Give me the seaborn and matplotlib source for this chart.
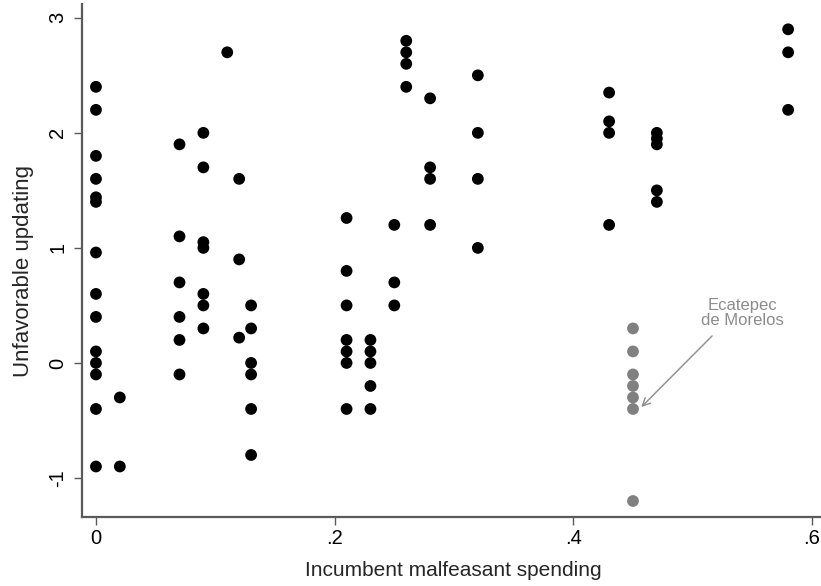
import matplotlib
matplotlib.use("Agg")
import matplotlib.pyplot as plt
import seaborn as sns
import pandas as pd

# Main municipalities: x (incumbent malfeasant spending), y (unfavorable updating)
x_main = (
    [0.0] * 14
    + [0.02] * 2
    + [0.07] * 6
    + [0.09] * 7
    + [0.11]
    + [0.12] * 3
    + [0.13] * 6
    + [0.21] * 7
    + [0.23] * 5
    + [0.25] * 3
    + [0.26] * 4
    + [0.28] * 4
    + [0.32] * 4
    + [0.43] * 4
    + [0.47] * 5
    + [0.58] * 3
)
y_main = (
    [2.4, 2.2, 1.8, 1.6, 1.44, 1.4, 0.96, 0.6, 0.4, 0.1, 0.0, -0.1, -0.4, -0.9]
    + [-0.3, -0.9]
    + [1.9, 1.1, 0.7, 0.4, 0.2, -0.1]
    + [2.0, 1.7, 1.05, 1.0, 0.6, 0.5, 0.3]
    + [2.7]
    + [1.6, 0.9, 0.22]
    + [0.5, 0.3, 0.0, -0.1, -0.4, -0.8]
    + [1.26, 0.8, 0.5, 0.2, 0.1, 0.0, -0.4]
    + [0.2, 0.1, 0.0, -0.2, -0.4]
    + [1.2, 0.7, 0.5]
    + [2.8, 2.7, 2.6, 2.4]
    + [2.3, 1.7, 1.6, 1.2]
    + [2.5, 2.0, 1.6, 1.0]
    + [2.35, 2.1, 2.0, 1.2]
    + [2.0, 1.95, 1.9, 1.5, 1.4]
    + [2.9, 2.7, 2.2]
)
# Ecatepec de Morelos
x_ecat = [0.45] * 7
y_ecat = [0.3, 0.1, -0.1, -0.2, -0.3, -0.4, -1.2]

x_ticks = [0, 0.2, 0.4, 0.6]
x_ticklabels = ["0", ".2", ".4", ".6"]
y_ticks = [-1, 0, 1, 2, 3]
y_ticklabels = ["-1", "0", "1", "2", "3"]

df = pd.DataFrame({
    "x": x_main + x_ecat,
    "y": y_main + y_ecat,
    "group": ["other"] * len(x_main) + ["Ecatepec"] * len(x_ecat),
})

sns.set_style("white")
plt.rcParams["font.family"] = ["Liberation Sans", "DejaVu Sans"]

fig = plt.figure(figsize=(8.21, 5.86), dpi=100)
ax = fig.add_axes([82 / 821, 1 - 517 / 586, (820 - 82) / 821, (517 - 4) / 586])

sns.scatterplot(
    data=df, x="x", y="y", hue="group",
    palette={"other": "black", "Ecatepec": "#808080"},
    s=72, linewidth=0, legend=False, ax=ax, zorder=3,
)

ax.set_xlim(-0.0117, 0.6067)
ax.set_ylim(-1.339, 3.12)
ax.set_xticks(x_ticks)
ax.set_xticklabels(x_ticklabels)
ax.set_yticks(y_ticks)
ax.set_yticklabels(y_ticklabels, rotation=90, va="center")

for side in ["top", "right"]:
    ax.spines[side].set_visible(False)
for side in ["left", "bottom"]:
    ax.spines[side].set_color("#5a5a5a")
    ax.spines[side].set_linewidth(1.6)

ax.tick_params(axis="both", direction="out", length=5.5, width=1.0, color="#5a5a5a",
               labelsize=14.5, labelcolor="black")
ax.tick_params(axis="x", pad=3)
ax.tick_params(axis="y", pad=5)
ax.tick_params(left=True, bottom=True)

ax.set_xlabel("Incumbent malfeasant spending", fontsize=15, va="center")
ax.xaxis.set_label_coords(0.5027, (517 - 571) / 513)
ax.set_ylabel("Unfavorable updating", fontsize=16, va="center")
ax.yaxis.set_label_coords((23.5 - 82) / 738, (517 - 271) / 513)

ax.text(0.5414, 0.435, "Ecatepec\nde Morelos", ha="center", va="center",
        fontsize=12, color="#8c8c8c", linespacing=0.95)
ax.annotate(
    "", xy=(0.457, -0.383), xytext=(0.5163, 0.235),
    arrowprops=dict(arrowstyle="->", color="#8c8c8c", lw=1.0,
                    shrinkA=0, shrinkB=0, mutation_scale=14),
)

fig.savefig("out.png", dpi=100)
